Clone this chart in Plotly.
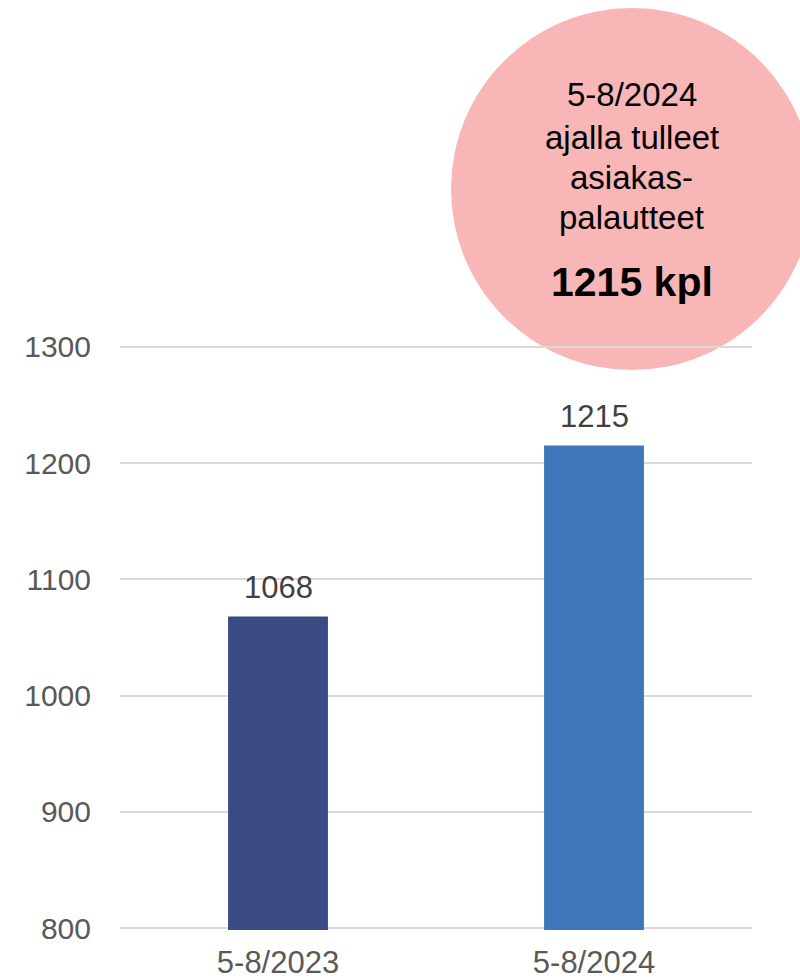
import plotly.graph_objects as go

categories = ["5-8/2023", "5-8/2024"]
values = [1068, 1215]
bar_colors = ["#3A4B84", "#3E77BA"]
y_ticks = [800, 900, 1000, 1100, 1200, 1300]
circle_lines = ["5-8/2024", "ajalla tulleet", "asiakas-", "palautteet"]
circle_bold = "1215 kpl"

FONT = "Liberation Sans, Arial, sans-serif"

# plot area (pixels): range 798.5..1301.5 so edge gridlines are not clipped
TOP, BOT, LEFT, RIGHT = 345, 930, 120, 752
H = BOT - TOP
W = RIGHT - LEFT


def py(p):
    return (BOT - p) / H


def px(p):
    return (p - LEFT) / W


fig = go.Figure()
fig.add_trace(go.Bar(
    x=categories, y=values,
    marker=dict(color=bar_colors, line=dict(width=0)),
    hoverinfo="skip",
))

# data labels
for c, v in zip(categories, values):
    fig.add_annotation(
        x=c, y=v, xref="x", yref="y", text=str(v), showarrow=False,
        yanchor="bottom", yshift=10,
        font=dict(family=FONT, size=31, color="#404040"),
    )

# pink circle
fig.add_shape(
    type="circle", xref="paper", yref="paper",
    x0=px(451), x1=px(813), y0=py(370), y1=py(8),
    fillcolor="#F8B6B6", line=dict(width=0), layer="below",
)

line_centers = [94.5, 137.5, 177.5, 217.5]
for t, yy in zip(circle_lines, line_centers):
    fig.add_annotation(
        x=px(631.5), y=py(yy), xref="paper", yref="paper", text=t, showarrow=False,
        xanchor="center", yanchor="middle",
        font=dict(family=FONT, size=33, color="#000000"),
    )
fig.add_annotation(
    x=px(631.5), y=py(282), xref="paper", yref="paper", text="<b>" + circle_bold + "</b>",
    showarrow=False, xanchor="center", yanchor="middle",
    font=dict(family=FONT, size=41, color="#000000"),
)

fig.update_layout(
    width=800, height=980,
    margin=dict(l=LEFT, r=800 - RIGHT, t=TOP, b=980 - BOT, autoexpand=False),
    paper_bgcolor="white", plot_bgcolor="white",
    showlegend=False,
    bargap=0.684,
    xaxis=dict(
        type="category", showgrid=False, showline=False, zeroline=False,
        tickfont=dict(family=FONT, size=31, color="#595959"),
        ticks="", ticklabelstandoff=11, automargin=False,
    ),
    yaxis=dict(
        range=[798.5, 1301.5], tickvals=y_ticks, showgrid=True,
        gridcolor="#D9D9D9", gridwidth=1.5, zeroline=False, showline=False,
        tickfont=dict(family=FONT, size=30, color="#595959"),
        ticks="", ticklabelstandoff=28, automargin=False,
    ),
)

fig.write_html("out.html")
